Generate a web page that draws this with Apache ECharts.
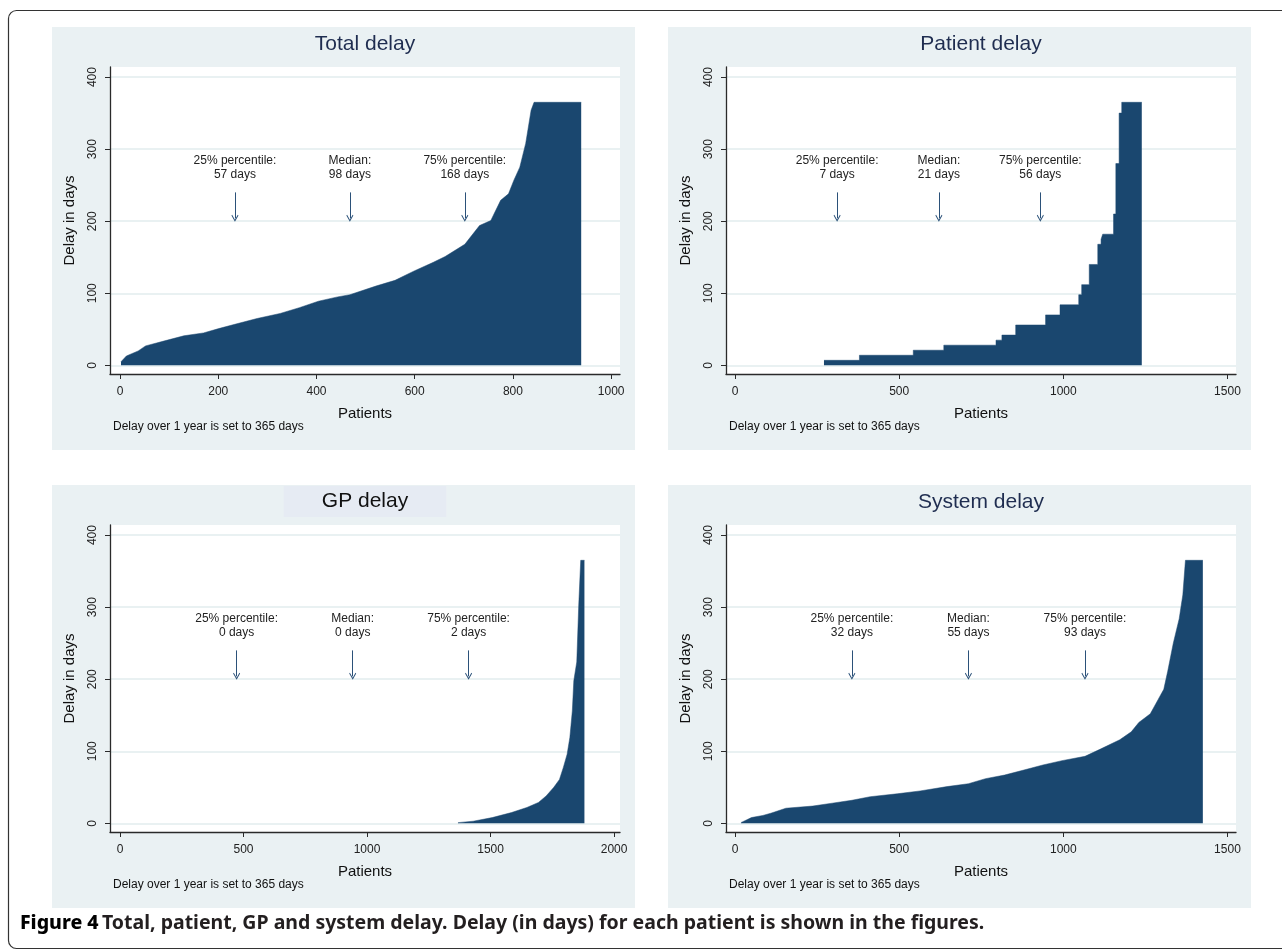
<!DOCTYPE html>
<html>
<head>
<meta charset="utf-8">
<title>Figure 4</title>
<script src="https://cdn.jsdelivr.net/npm/echarts@6/dist/echarts.min.js"></script>
<style>
  html, body { margin: 0; padding: 0; background: #fff; }
  #chart { width: 1282px; height: 950px; }
</style>
</head>
<body>
<div id="chart"></div>
<script>
// sorted delays as [patient, days]
const totalDelay = [
  [2, 5], [13, 13], [37, 20], [52, 27], [91, 34], [130, 41], [170, 45], [201, 51],
  [234, 57], [279, 65], [326, 72], [365, 80], [404, 89], [443, 95], [468, 98],
  [521, 110], [560, 118], [599, 131], [638, 143], [662, 151], [702, 168], [732, 194],
  [755, 201], [775, 229], [791, 238], [802, 257], [814, 275], [826, 308], [837, 354],
  [843, 365], [939, 365]
];
// step levels: [first patient at this level, days]
const patientDelay = [
  [271, 7], [379, 14], [543, 21], [636, 28], [795, 35], [813, 42], [855, 56],
  [946, 70], [990, 84], [1047, 98], [1056, 112], [1079, 140], [1105, 168],
  [1115, 175], [1120, 182], [1153, 210], [1160, 280], [1170, 350], [1178, 365],
  [1239, 365]
];
const gpDelay = [
  [1368, 1], [1430, 3], [1507, 8], [1585, 15], [1647, 22], [1694, 29], [1725, 38],
  [1756, 50], [1779, 61], [1795, 78], [1810, 96], [1821, 119], [1831, 156],
  [1837, 198], [1849, 224], [1857, 303], [1865, 365], [1880, 365]
];
const systemDelay = [
  [18, 1], [50, 8], [85, 11], [109, 14], [155, 21], [237, 24], [296, 28], [356, 32],
  [412, 37], [494, 41], [564, 45], [646, 51], [711, 55], [763, 62], [821, 67],
  [880, 74], [938, 81], [996, 87], [1066, 93], [1113, 103], [1172, 116], [1207, 127],
  [1230, 140], [1265, 152], [1289, 172], [1306, 186], [1318, 211], [1335, 250],
  [1353, 284], [1364, 317], [1372, 365], [1425, 365]
];

const panelTitles = ["Total delay", "Patient delay", "GP delay", "System delay"];
const yTicks = [0, 100, 200, 300, 400];
const xTicksTotal = [0, 200, 400, 600, 800, 1000];
const xTicks1500 = [0, 500, 1000, 1500];
const xTicks2000 = [0, 500, 1000, 1500, 2000];

// where the percentile arrows sit (patient number) and what they say
const arrowX = [
  [234, 468, 702],
  [311, 621, 930],
  [472, 942, 1411],
  [356, 711, 1066]
];
const arrowText = [
  ["25% percentile:\n57 days", "Median:\n98 days", "75% percentile:\n168 days"],
  ["25% percentile:\n7 days", "Median:\n21 days", "75% percentile:\n56 days"],
  ["25% percentile:\n0 days", "Median:\n0 days", "75% percentile:\n2 days"],
  ["25% percentile:\n32 days", "Median:\n55 days", "75% percentile:\n93 days"]
];
const noteText = "Delay over 1 year is set to 365 days";

const FONT = "Liberation Sans, Arial, sans-serif";
const NAVY = "#1a476f";
const AXIS = "#2a2a2a";
const PANEL_BG = "#eaf1f3";

const seriesData = [totalDelay, patientDelay, gpDelay, systemDelay];
const xTicks = [xTicksTotal, xTicks1500, xTicks2000, xTicks1500];
const xRange = [[-20.4, 1018], [-27.4, 1526], [-40.5, 2024], [-27.4, 1526]];
const grids = [
  { left: 110, top: 67, width: 510, height: 307 },
  { left: 726, top: 67, width: 510, height: 307 },
  { left: 110, top: 525, width: 510, height: 307 },
  { left: 726, top: 525, width: 510, height: 307 }
];
const panels = [[52, 27], [668, 27], [52, 485], [668, 485]];

// open arrow head, tip up (echarts turns it along the line)
const chevron = "path://M5,0 L10,8 L9,9 L5,2.6 L1,9 L0,8 Z";

const option = {
  animation: false,
  backgroundColor: "#fff",
  textStyle: { fontFamily: FONT },
  graphic: [
    {
      type: "rect", z: -10, silent: true,
      shape: { x: 8.5, y: 10.5, width: 1300, height: 938, r: 8 },
      style: { fill: "#fff", stroke: "#333", lineWidth: 1.2 }
    },
    ...panels.map(([x, y]) => ({
      type: "rect", z: -9, silent: true,
      shape: { x, y, width: 583, height: 423 },
      style: { fill: PANEL_BG }
    })),
    {
      type: "text", left: 20, top: 913, silent: true,
      style: {
        text: "{a|Figure 4} {b|Total, patient, GP and system delay. Delay (in days) for each patient is shown in the figures.}",
        rich: {
          a: { fontFamily: "Noto Sans", fontSize: 19.5, fontWeight: 800, fill: "#000" },
          b: { fontFamily: "Noto Sans", fontSize: 19.5, fontWeight: 700, fill: "#231f20" }
        }
      }
    }
  ],
  title: [
    ...panelTitles.map((t, i) => {
      const g = grids[i];
      const isGP = i === 2;
      return {
        text: t,
        // the GP title has its own box; padding is not centred by textAlign
        left: g.left + g.width / 2 - (isGP ? 38 : 0),
        top: isGP ? 486 : g.top - 33,
        textAlign: "center",
        padding: isGP ? [5, 38, 5, 38] : 0,
        backgroundColor: isGP ? "#e6ebf3" : "transparent",
        textStyle: {
          fontFamily: FONT, fontSize: 21, lineHeight: 21, fontWeight: "normal",
          color: isGP ? "#111" : "#1f2d50"
        }
      };
    }),
    ...grids.map(g => ({
      text: noteText,
      left: g.left + 3,
      top: g.top + g.height + 47,
      padding: 0,
      textStyle: { fontFamily: FONT, fontSize: 12, fontWeight: "normal", color: "#111" }
    }))
  ],
  grid: grids.map(g => ({
    ...g, show: true, backgroundColor: "#fff", borderWidth: 0, containLabel: false
  })),
  xAxis: grids.map((g, i) => ({
    type: "value",
    gridIndex: i,
    min: xRange[i][0],
    max: xRange[i][1],
    name: "Patients",
    nameLocation: "middle",
    nameGap: 32,
    nameTextStyle: { fontFamily: FONT, fontSize: 15, color: "#111" },
    axisLine: { show: true, onZero: false, lineStyle: { color: AXIS, width: 1.3 } },
    axisTick: { show: true, inside: false, length: 5, customValues: xTicks[i], lineStyle: { color: AXIS, width: 1 } },
    axisLabel: {
      customValues: xTicks[i], margin: 12, fontFamily: FONT, fontSize: 12, color: "#222",
      formatter: v => String(v)
    },
    splitLine: { show: false }
  })),
  yAxis: grids.map((g, i) => ({
    type: "value",
    gridIndex: i,
    min: -12,
    max: 414,
    name: "Delay in days",
    nameLocation: "middle",
    nameGap: 33,
    nameTextStyle: { fontFamily: FONT, fontSize: 15, color: "#111" },
    axisLine: { show: true, onZero: false, lineStyle: { color: AXIS, width: 1.3 } },
    axisTick: { show: true, inside: false, length: 5, customValues: yTicks, lineStyle: { color: AXIS, width: 1 } },
    axisLabel: {
      customValues: yTicks, rotate: 90, margin: 11, fontFamily: FONT, fontSize: 12, color: "#222",
      formatter: v => String(v)
    },
    splitLine: { show: true, lineStyle: { color: "#e2ecee", width: 1.5 } }
  })),
  series: seriesData.map((d, i) => ({
    type: "line",
    xAxisIndex: i,
    yAxisIndex: i,
    data: d,
    step: i === 1 ? "end" : false,
    symbol: "none",
    silent: true,
    lineStyle: { width: 0.5, color: NAVY },
    areaStyle: { color: NAVY, opacity: 1 },
    markLine: {
      silent: true,
      symbol: ["none", chevron],
      symbolSize: 7,
      label: { show: false },
      lineStyle: { color: "#2b5179", width: 1, type: "solid" },
      emphasis: { disabled: true },
      data: arrowX[i].map(x => [{ coord: [x, 240] }, { coord: [x, 204] }])
    },
    markPoint: {
      silent: true,
      symbol: "circle",
      symbolSize: 0,
      label: {
        show: true, position: "inside", formatter: "{b}",
        fontFamily: FONT, fontSize: 12, lineHeight: 14, color: "#222", align: "center"
      },
      data: arrowX[i].map((x, k) => ({ coord: [x, 274], name: arrowText[i][k], value: 0 }))
    }
  }))
};

const chart = echarts.init(document.getElementById("chart"), null, { renderer: "canvas" });
chart.setOption(option);
</script>
</body>
</html>
